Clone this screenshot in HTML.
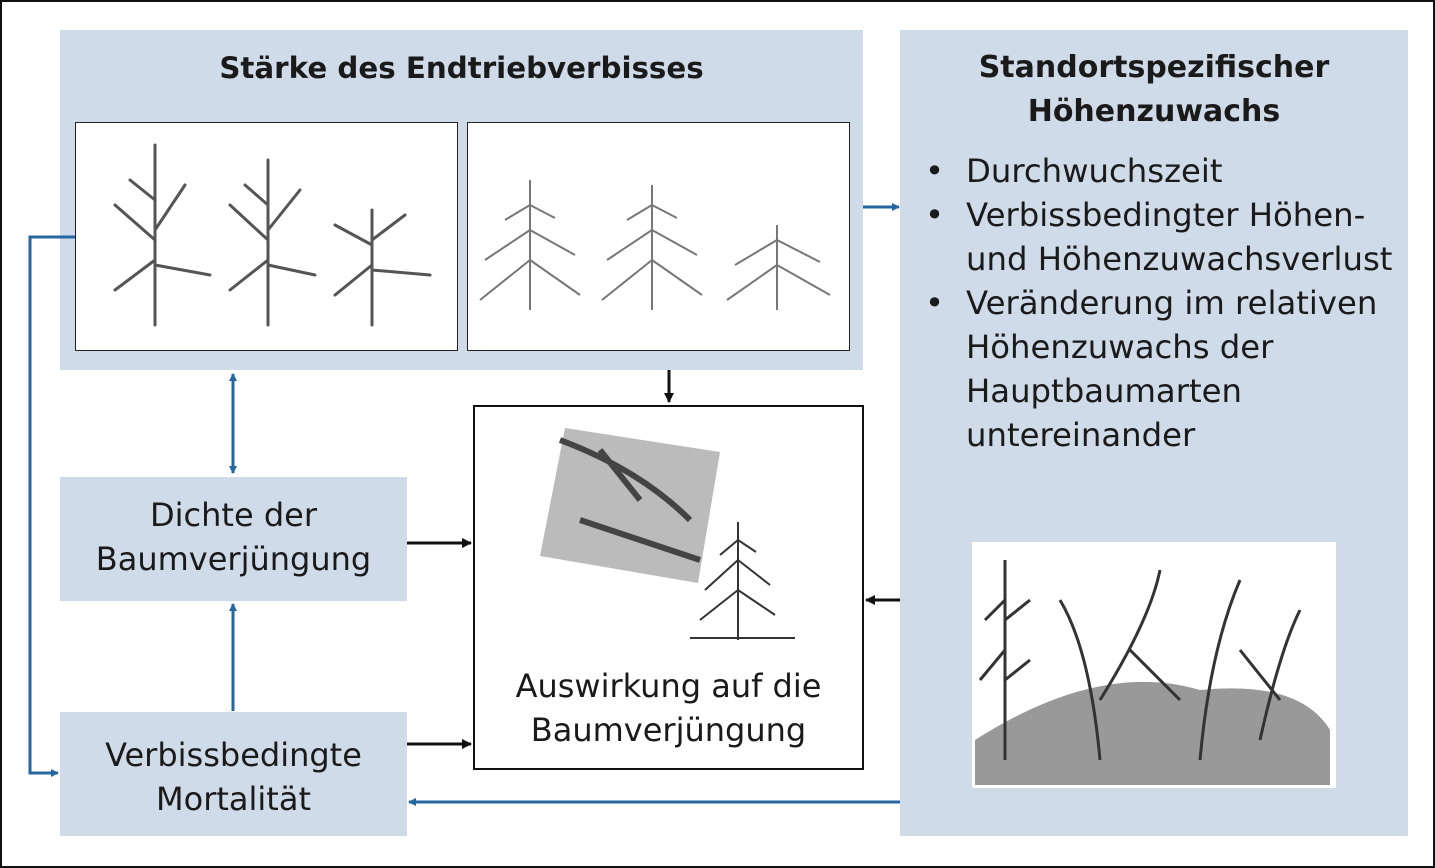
<!DOCTYPE html>
<html><head><meta charset="utf-8"><style>
body{margin:0;width:1435px;height:868px;background:#fff;position:relative;overflow:hidden;font-family:"DejaVu Sans","Liberation Sans",sans-serif;color:#1a1a1a}
.b{position:absolute;background:#d0dbe9}
.w{position:absolute;background:#fff;border:1px solid #222;box-sizing:border-box}
.t{position:absolute;text-align:center;font-size:31px;line-height:44px}
.bold{font-weight:bold}
svg{position:absolute;left:0;top:0}
</style></head><body>
<div style="position:absolute;left:0;top:0;width:1435px;height:868px;border:2px solid #111;box-sizing:border-box"></div>
<div class="b" style="left:60px;top:30px;width:803px;height:340px"></div>
<div class="b" style="left:900px;top:30px;width:508px;height:806px"></div>
<div class="b" style="left:60px;top:477px;width:347px;height:124px"></div>
<div class="b" style="left:60px;top:712px;width:347px;height:124px"></div>
<div class="w" style="left:75px;top:122px;width:383px;height:229px"></div>
<div class="w" style="left:467px;top:122px;width:383px;height:229px"></div>
<div class="w" style="left:473px;top:405px;width:391px;height:365px;border:2px solid #111"></div>
<div style="position:absolute;left:972px;top:542px;width:364px;height:246px;background:#fff"></div>
<div class="t bold" style="left:60px;top:46px;width:803px;font-size:29.3px">Stärke des Endtriebverbisses</div>
<div class="t bold" style="left:900px;top:46px;width:508px;font-size:30px">Standortspezifischer<br>Höhenzuwachs</div>
<div style="position:absolute;left:925px;top:149px;font-size:32.3px;line-height:44px;width:480px">
<div style="position:relative;padding-left:41px"><span style="position:absolute;left:0">•</span>Durchwuchszeit</div>
<div style="position:relative;padding-left:41px"><span style="position:absolute;left:0">•</span>Verbissbedingter Höhen- und Höhenzuwachsverlust</div>
<div style="position:relative;padding-left:41px"><span style="position:absolute;left:0">•</span>Veränderung im relativen Höhenzuwachs der Hauptbaumarten untereinander</div>
</div>
<div class="t" style="left:60px;top:493px;width:347px;font-size:32px">Dichte der<br>Baumverjüngung</div>
<div class="t" style="left:60px;top:733px;width:347px;font-size:32px">Verbissbedingte<br>Mortalität</div>
<div class="t" style="left:473px;top:664px;width:391px;font-size:32px">Auswirkung auf die<br>Baumverjüngung</div>
<svg width="1435" height="868">
<defs>
<marker id="ab" markerWidth="8" markerHeight="8" refX="7" refY="4" orient="auto" markerUnits="userSpaceOnUse"><path d="M0,0L8,4L0,8z" fill="#2466a0"/></marker>
<marker id="ak" markerWidth="10" markerHeight="10" refX="9" refY="5" orient="auto" markerUnits="userSpaceOnUse"><path d="M0,0L10,5L0,10z" fill="#111"/></marker>
<marker id="abs" markerWidth="8" markerHeight="8" refX="1" refY="4" orient="auto" markerUnits="userSpaceOnUse"><path d="M8,0L0,4L8,8z" fill="#2466a0"/></marker>
</defs>
<g stroke="#2466a0" stroke-width="3" fill="none">
<line x1="233" y1="374" x2="233" y2="473" marker-start="url(#abs)" marker-end="url(#ab)"/>
<line x1="233" y1="711" x2="233" y2="604" marker-end="url(#ab)"/>
<polyline points="75,237 30,237 30,773 58,773" marker-end="url(#ab)"/>
<line x1="863" y1="207" x2="899" y2="207" marker-end="url(#ab)"/>
<line x1="900" y1="802" x2="409" y2="802" marker-end="url(#ab)"/>
</g>
<g stroke="#111" stroke-width="3" fill="none">
<line x1="669" y1="370" x2="669" y2="402" marker-end="url(#ak)"/>
<line x1="407" y1="543" x2="471" y2="543" marker-end="url(#ak)"/>
<line x1="407" y1="744" x2="471" y2="744" marker-end="url(#ak)"/>
<line x1="900" y1="600" x2="866" y2="600" marker-end="url(#ak)"/>
</g>
<g stroke="#555" stroke-width="3" fill="none" stroke-linecap="round">
<path d="M155,325V145M155,240L115,205M155,260L115,290M155,230L185,185M155,265L210,275M155,200L130,180"/>
<path d="M268,325V160M268,240L230,205M268,260L230,290M268,230L300,190M268,265L315,275M268,205L245,185"/>
<path d="M372,325V210M372,245L335,225M372,265L335,295M372,240L405,215M372,270L430,275"/>
</g>
<g stroke="#777" stroke-width="2" fill="none">
<path d="M530,310V180M530,230L485,260M530,230L575,255M530,260L480,300M530,260L580,295M530,205L505,220M530,205L555,218"/>
<path d="M652,310V185M652,230L607,260M652,230L697,255M652,260L602,300M652,260L702,295M652,205L627,220M652,205L677,218"/>
<path d="M777,310V225M777,240L735,265M777,240L820,262M777,265L727,300M777,265L830,295"/>
</g>
<polygon points="565,428 720,452 698,583 540,556" fill="#bbb"/>
<path d="M560,440Q640,470 690,520M600,450L640,500M580,520Q640,540 700,560" stroke="#444" stroke-width="6" fill="none"/>
<g stroke="#333" stroke-width="2" fill="none"><path d="M738,640V522M738,560L705,590M738,560L770,585M738,590L700,620M738,590L775,615M738,540L720,555M738,540L756,552"/><line x1="690" y1="638" x2="795" y2="638"/></g>
<path d="M975,740Q1100,660 1200,690Q1300,680 1330,730L1330,785L975,785z" fill="#999"/>
<g stroke="#333" stroke-width="3" fill="none"><path d="M1005,760V560M1005,600L985,620M1005,620L1030,600M1005,650L980,680M1005,680L1030,660M1100,760Q1090,650 1060,600M1100,700Q1150,620 1160,570M1200,760Q1210,650 1240,580M1180,700L1130,650M1260,740Q1280,650 1300,610M1240,650L1280,700"/></g>
</svg>
</body></html>
